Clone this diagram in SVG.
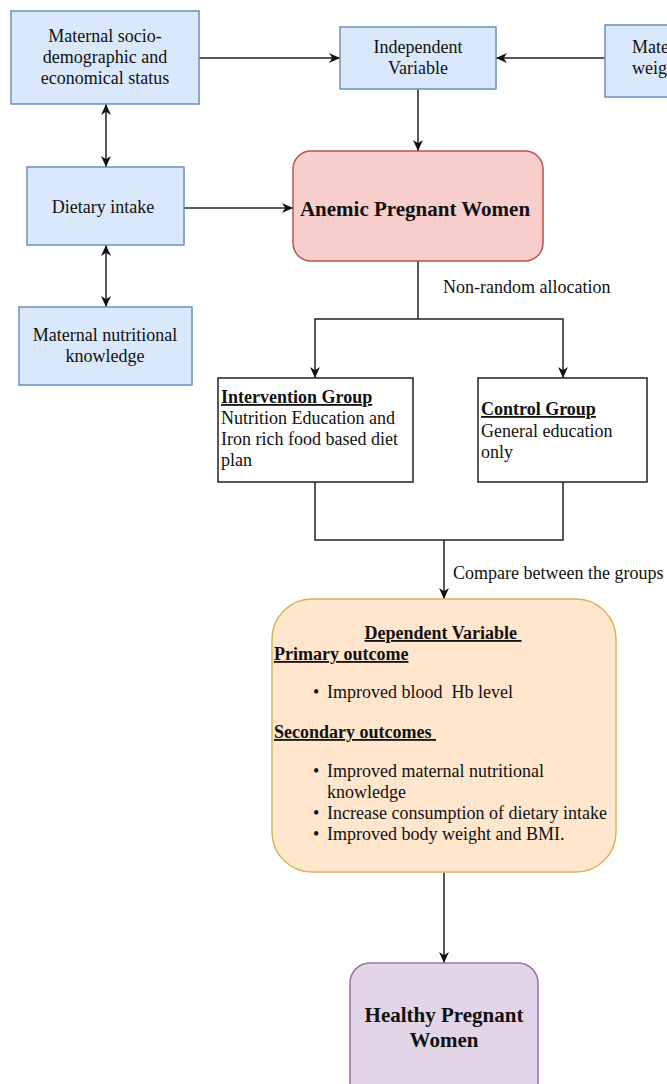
<svg xmlns="http://www.w3.org/2000/svg" width="667" height="1084" viewBox="0 0 667 1084">
<style>
text{font-family:"Liberation Serif","Times New Roman",serif;font-size:18px;fill:#111}
.c{text-anchor:middle}
.b{font-weight:bold}
.u{text-decoration:underline}
.big{font-size:21px;font-weight:bold}
.blue{fill:#dae8fc;stroke:#6c8ebf;stroke-width:1.5}
.wb{fill:#fff;stroke:#222;stroke-width:1.5}
.ln{fill:none;stroke:#222;stroke-width:1.5}
</style>
<defs>
<marker id="ah" viewBox="0 0 10 10" refX="10" refY="5" markerWidth="11" markerHeight="11" markerUnits="userSpaceOnUse" orient="auto-start-reverse">
<path d="M0,0.5 L10,5 L0,9.5 L3,5 Z" fill="#111"/>
</marker>
</defs>
<rect width="667" height="1084" fill="#fff"/>
<g id="connectors">
<line class="ln" x1="199" y1="58" x2="340" y2="58" marker-end="url(#ah)"/>
<line class="ln" x1="605" y1="58" x2="496" y2="58" marker-end="url(#ah)"/>
<line class="ln" x1="418" y1="89" x2="418" y2="151" marker-end="url(#ah)"/>
<line class="ln" x1="184" y1="208" x2="293" y2="208" marker-end="url(#ah)"/>
<line class="ln" x1="106" y1="104" x2="106" y2="167" marker-start="url(#ah)" marker-end="url(#ah)"/>
<line class="ln" x1="106" y1="245" x2="106" y2="307" marker-start="url(#ah)" marker-end="url(#ah)"/>
<polyline class="ln" points="418,261 418,319"/>
<polyline class="ln" points="315,378 315,319 563,319 563,378" marker-start="url(#ah)" marker-end="url(#ah)"/>
<polyline class="ln" points="315,482 315,540 563,540 563,482"/>
<line class="ln" x1="444" y1="540" x2="444" y2="599" marker-end="url(#ah)"/>
<line class="ln" x1="444" y1="872" x2="444" y2="963" marker-end="url(#ah)"/>
<text x="443" y="293">Non-random allocation</text>
<text x="453" y="579">Compare between the groups</text>
</g>
<g id="socio">
<rect class="blue" x="11" y="11" width="188" height="93"/>
<text class="c" x="105" y="42">Maternal socio-</text>
<text class="c" x="105" y="63">demographic and</text>
<text class="c" x="105" y="84">economical status</text>
</g>
<g id="independent">
<rect class="blue" x="340" y="27" width="156" height="62"/>
<text class="c" x="418" y="53">Independent</text>
<text class="c" x="418" y="74">Variable</text>
</g>
<g id="weight">
<rect class="blue" x="605" y="25" width="80" height="72"/>
<text x="632" y="53">Maternal</text>
<text x="632" y="74">weight</text>
</g>
<g id="dietary">
<rect class="blue" x="27" y="167" width="157" height="78"/>
<text class="c" x="103" y="213">Dietary intake</text>
</g>
<g id="knowledge">
<rect class="blue" x="19" y="307" width="173" height="78"/>
<text class="c" x="105" y="341">Maternal nutritional</text>
<text class="c" x="105" y="362">knowledge</text>
</g>
<g id="anemic">
<rect x="293" y="151" width="250" height="110" rx="18" fill="#f8cecc" stroke="#b85450" stroke-width="1.5"/>
<text class="c big" x="415" y="216">Anemic Pregnant Women</text>
</g>
<g id="intervention">
<rect class="wb" x="218" y="378" width="195" height="104"/>
<text class="b u" x="221" y="403">Intervention Group</text>
<text x="221" y="424">Nutrition Education and</text>
<text x="221" y="445">Iron rich food based diet</text>
<text x="221" y="466">plan</text>
</g>
<g id="control">
<rect class="wb" x="478" y="378" width="169" height="104"/>
<text class="b u" x="481" y="415">Control Group</text>
<text x="481" y="437">General education</text>
<text x="481" y="458">only</text>
</g>
<g id="dependent">
<rect x="272" y="599" width="344" height="273" rx="40" fill="#ffe6cc" stroke="#d6b656" stroke-width="1.5"/>
<text class="c b u" x="443" y="639" xml:space="preserve">Dependent Variable </text>
<text class="b u" x="274" y="660">Primary outcome</text>
<text x="313" y="698">•</text>
<text x="327" y="698" xml:space="preserve">Improved blood  Hb level</text>
<text class="b u" x="274" y="738" xml:space="preserve">Secondary outcomes </text>
<text x="313" y="777">•</text>
<text x="327" y="777">Improved maternal nutritional</text>
<text x="327" y="798">knowledge</text>
<text x="313" y="819">•</text>
<text x="327" y="819">Increase consumption of dietary intake</text>
<text x="313" y="840">•</text>
<text x="327" y="840">Improved body weight and BMI.</text>
</g>
<g id="healthy">
<rect x="350" y="963" width="188" height="140" rx="20" fill="#e1d5e7" stroke="#9673a6" stroke-width="1.5"/>
<text class="c big" x="444" y="1022">Healthy Pregnant</text>
<text class="c big" x="444" y="1047">Women</text>
</g>
</svg>
